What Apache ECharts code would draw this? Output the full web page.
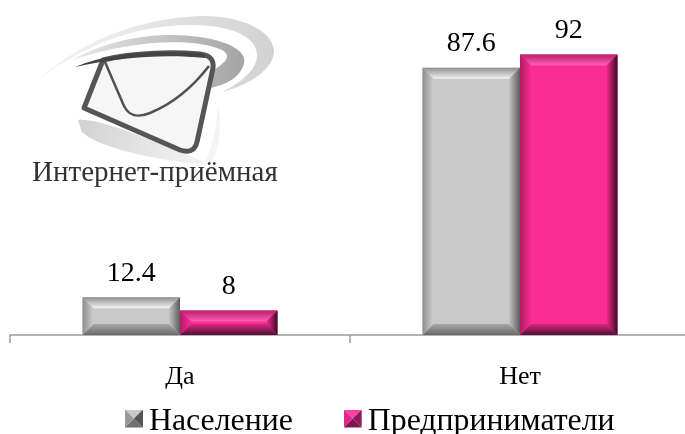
<!DOCTYPE html>
<html><head><meta charset="utf-8">
<style>html,body{margin:0;padding:0;background:#fff}#c{width:685px;height:434px}</style>
<script src="https://cdn.jsdelivr.net/npm/echarts@6/dist/echarts.min.js"></script></head>
<body><div id="c"></div>
<script>
var categories = ['Да', 'Нет'];
var naselenie = [12.4, 87.6];
var predprinimateli = [8, 92];
var seriesNames = ['Население', 'Предприниматели'];

var FONT = '"Liberation Serif","Times New Roman",serif';
var BAR_W = 97.5, BEVEL = 11;
function lg(x0,y0,x1,y1,a,b){return new echarts.graphic.LinearGradient(x0,y0,x1,y1,[{offset:0,color:a},{offset:1,color:b}]);}
var palettes = [
 {face:'#c9c9c9', top:['#8e8e8e','#f4f4f4'], left:['#8f8f8f','#cdcdcd'], right:['#c4c4c4','#5c5c5c'], bottom:['#a8a8a8','#686868'],
  icon:{top:'#c8c8c8',left:'#999999',right:'#555555',bottom:'#707070'}},
 {face:'#fb2d92', top:['#b81d6c','#ff5fb6'], left:['#b01c68','#f92c90'], right:['#f52a8e','#3d0a26'], bottom:['#d92680','#521033'],
  icon:{top:'#ff3fa0',left:'#e0288a',right:'#90185c',bottom:'#801550'}}
];
function bevelItem(sIdx){
 return function(params, api){
  var cat = api.value(0), val = api.value(1);
  var base = api.coord([cat,0]), top = api.coord([cat,val]);
  var l = base[0] + (sIdx===0 ? -BAR_W : 0), r = l + BAR_W, t = top[1], b = base[1];
  var e = Math.min(BEVEL, (b-t)/2.2), p = palettes[sIdx];
  function poly(pts,fill){return {type:'polygon',shape:{points:pts},style:{fill:fill}};}
  return {type:'group',children:[
   poly([[l,t],[r,t],[r-e,t+e],[l+e,t+e]], lg(0,0,0,1,p.top[0],p.top[1])),
   poly([[l,b],[r,b],[r-e,b-e],[l+e,b-e]], lg(0,0,0,1,p.bottom[0],p.bottom[1])),
   poly([[l,t],[l+e,t+e],[l+e,b-e],[l,b]], lg(0,0,1,0,p.left[0],p.left[1])),
   poly([[r,t],[r-e,t+e],[r-e,b-e],[r,b]], lg(0,0,1,0,p.right[0],p.right[1]))
  ]};
 };
}
function icon(p){
 var c = p.icon;
 var svg = '<svg xmlns="http://www.w3.org/2000/svg" width="18" height="25">'
 +'<polygon points="0,0 18,0 9,9" fill="'+c.top+'"/>'
 +'<polygon points="0,18 18,18 9,9" fill="'+c.bottom+'"/>'
 +'<polygon points="0,0 0,18 9,9" fill="'+c.left+'"/>'
 +'<polygon points="18,0 18,18 9,9" fill="'+c.right+'"/></svg>';
 return 'image://data:image/svg+xml;charset=utf-8,'+encodeURIComponent(svg);
}
function barSeries(name,data,i){
 return {name:name,type:'bar',data:data,barWidth:BAR_W,barGap:0,
  itemStyle:{color:palettes[i].face},
  label:{show:true,position:'top',distance:10,color:'#000',fontFamily:FONT,fontSize:28}};
}
function overlay(data,i){
 return {type:'custom',silent:true,z:5,renderItem:bevelItem(i),
  data:data.map(function(v,k){return [k,v];}),encode:{x:0,y:1},tooltip:{show:false}};
}
function pathEl(d,style){return {type:'path',shape:{pathData:d},style:style};}
function logoItem(){
 return {type:'group',children:[
 pathEl('M37 81 C75 45 135 18 200 16 C240 15 272 30 274 50 C275 68 250 85 222 92 C250 78 262 62 255 47 C245 27 205 23 170 26 C120 30 75 52 37 81 Z',{fill:lg(0,0,1,0,'#f6f6f6','#d2d2d2')}),
 pathEl('M72 60 C110 38 160 31 200 37 C232 42 247 52 244 64 C240 77 228 84 211 88 L214 70 C226 62 232 56 222 50 C195 37 130 40 72 60 Z',{fill:lg(0,0,1,0,'#e8e8e8','#a4a4a4')}),
 pathEl('M78 120 C100 118 150 140 205 162 C212 150 217 125 218 106 C222 130 220 150 210 165 C170 162 100 150 82 132 Z',{fill:lg(0,0,1,1,'#d0d0d0','#f8f8f8')}),
 pathEl('M103 60 C135 52 175 52 200 54 C210 55 214 60 213 68 L197 142 C195 151 188 153 180 150 L84 108 Z',{fill:'#f6f6f6',stroke:'#555555',lineWidth:5,lineJoin:'round'}),
 pathEl('M105 62 L124 106 C130 118 140 117 150 113 C172 104 192 88 209 66',{fill:'none',stroke:'#505050',lineWidth:2.5}),
 pathEl('M75 67 C110 52 165 49 205 54 L205 58 C165 54 120 57 75 67 Z',{fill:'#444444'}),
 {type:'text',x:32,y:159,style:{text:'Интернет-приёмная',font:'29px '+FONT,fill:'#333333'}}
 ]};
}
var option = {
 animation:false,
 backgroundColor:'#ffffff',
 grid:{left:10,width:680,top:30,bottom:99,outerBoundsMode:'none'},
 legend:{data:seriesNames.map(function(n,i){return {name:n,icon:icon(palettes[i])};}),
  left:120,top:401,itemWidth:18,itemHeight:25,itemGap:51,selectedMode:false,
  textStyle:{fontFamily:FONT,fontSize:31.8,color:'#000',padding:[0,0,0,1]}},
 xAxis:{type:'category',data:categories,
  axisLine:{lineStyle:{color:'#9a9a9a',width:1.5}},
  axisTick:{show:true,alignWithLabel:false,length:8,lineStyle:{color:'#9a9a9a',width:1.5}},
  axisLabel:{color:'#000',fontFamily:FONT,fontSize:26,margin:29}},
 yAxis:{type:'value',min:0,max:100,show:false},
 series:[barSeries(seriesNames[0],naselenie,0),barSeries(seriesNames[1],predprinimateli,1),
  overlay(naselenie,0),overlay(predprinimateli,1),
  {type:'custom',coordinateSystem:'none',silent:true,renderItem:logoItem,data:[[0]]}]
};
echarts.init(document.getElementById('c'),null,{renderer:'canvas'}).setOption(option);
</script></body></html>
